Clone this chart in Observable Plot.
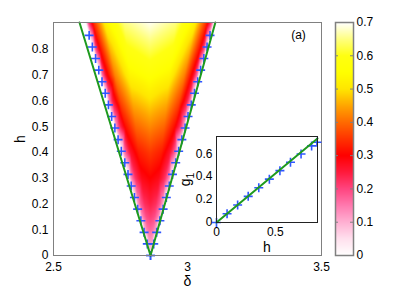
<!DOCTYPE html>
<html><head><meta charset="utf-8">
<script src="https://cdn.jsdelivr.net/npm/d3@7"></script>
<script src="https://cdn.jsdelivr.net/npm/@observablehq/plot@0.6"></script>
<style>
html,body{margin:0;padding:0;background:#fff;}
#chart{position:relative;width:407px;height:289px;overflow:hidden;}
#chart svg{position:absolute;left:0;top:0;}
</style></head><body><div id="chart"></div>
<script>
// ---- heat map (order parameter) ----
const rowH     = [0, 0.05, 0.1, 0.15, 0.2, 0.3, 0.4, 0.5, 0.6, 0.7, 0.8, 0.905];
const rowLeft  = [2.862, 2.849, 2.835, 2.822, 2.808, 2.782, 2.755, 2.728, 2.701, 2.674, 2.648, 2.620];
const rowRight = [2.862, 2.875, 2.888, 2.901, 2.914, 2.940, 2.966, 2.992, 3.018, 3.044, 3.072, 3.100];
const across   = [0, 0.02, 0.06, 0.15, 0.3, 0.5, 0.7, 0.85, 0.94, 0.98, 1];
const rowValues = [
  [0.04, 0.04, 0.04, 0.04, 0.04, 0.04, 0.04, 0.04, 0.04, 0.04, 0.04],
  [0, 0.034, 0.057, 0.086, 0.110, 0.120, 0.110, 0.086, 0.057, 0.034, 0],
  [0, 0.048, 0.081, 0.121, 0.156, 0.170, 0.156, 0.121, 0.081, 0.048, 0],
  [0, 0.059, 0.100, 0.150, 0.193, 0.210, 0.193, 0.150, 0.100, 0.059, 0],
  [0, 0.069, 0.116, 0.175, 0.225, 0.245, 0.225, 0.175, 0.116, 0.069, 0],
  [0, 0.084, 0.145, 0.220, 0.280, 0.300, 0.280, 0.220, 0.145, 0.084, 0],
  [0, 0.098, 0.170, 0.260, 0.328, 0.355, 0.328, 0.260, 0.170, 0.098, 0],
  [0, 0.118, 0.205, 0.310, 0.395, 0.425, 0.395, 0.310, 0.205, 0.118, 0],
  [0, 0.137, 0.240, 0.365, 0.462, 0.495, 0.462, 0.365, 0.240, 0.137, 0],
  [0, 0.155, 0.272, 0.420, 0.530, 0.562, 0.530, 0.420, 0.272, 0.155, 0],
  [0, 0.174, 0.305, 0.465, 0.590, 0.628, 0.590, 0.465, 0.305, 0.174, 0],
  [0, 0.193, 0.338, 0.520, 0.650, 0.695, 0.650, 0.520, 0.338, 0.193, 0]
];

// ---- numerical boundary points (+) ----
const markH     = [0, 0.045, 0.09, 0.135, 0.18, 0.225, 0.27, 0.315, 0.36, 0.405, 0.45, 0.495, 0.54, 0.585, 0.63, 0.675, 0.72, 0.765, 0.81, 0.855];
const markLeft  = [2.862, 2.850, 2.838, 2.826, 2.814, 2.802, 2.790, 2.778, 2.766, 2.753, 2.741, 2.729, 2.717, 2.705, 2.693, 2.681, 2.669, 2.657, 2.645, 2.633];
const markRight = [2.862, 2.874, 2.885, 2.897, 2.909, 2.921, 2.932, 2.944, 2.956, 2.967, 2.979, 2.991, 3.002, 3.014, 3.026, 3.038, 3.049, 3.061, 3.073, 3.084];

// ---- analytic boundary lines ----
const lineH     = [0, 0.905];
const lineLeft  = [2.862, 2.597];
const lineRight = [2.862, 3.104];

// ---- inset: g1 vs h ----
const insetH = [0, 0.09, 0.18, 0.27, 0.36, 0.45, 0.54, 0.63, 0.72, 0.81, 0.855];
const insetG = [0, 0.076, 0.152, 0.228, 0.303, 0.378, 0.452, 0.525, 0.597, 0.668, 0.700];
const fitH = [0, 0.86];
const fitG = [0, 0.733];

// ---- ticks ----
const deltaTicks = [2.5, 3, 3.5];
const hTicks = [0, 0.1, 0.2, 0.3, 0.4, 0.5, 0.6, 0.7, 0.8];
const insetXTicks = [0, 0.5];
const insetYTicks = [0, 0.2, 0.4, 0.6];
const cbTicks = [0, 0.1, 0.2, 0.3, 0.4, 0.5, 0.6, 0.7];
const cbMinor = [0.1, 0.2, 0.3, 0.4, 0.5, 0.6];

// ---- colormap ----
const colorStops = [0, 0.05, 0.1, 0.15, 0.2, 0.25, 0.3, 0.35, 0.4, 0.45, 0.5, 0.55, 0.6, 0.65, 0.7];
const colorList  = ["#ffffff","#ffe0ee","#ffb0d2","#ff7aaf","#ff4580","#ff1a3c","#ff0000","#ff3300","#ff6a00","#ffa500","#ffe600","#ffff00","#ffff12","#ffff80","#ffffff"];

const stops = d3.scaleLinear().domain(colorStops).range(colorList).interpolate(d3.interpolateRgb).clamp(true);
const colorScale = {type: "linear", domain: [0, 0.7], interpolate: t => stops(t * 0.7)};
const fmt = d => String(d);

const cells = [];
rowH.forEach((h, i) => across.forEach((u, j) => {
  cells.push({d: rowLeft[i] + u * (rowRight[i] - rowLeft[i]), h, v: rowValues[i][j]});
}));

// barycentric interpolation, left blank outside the sampled wedge
let wedgeInterpolate = "barycentric";
if (typeof Plot.interpolatorBarycentric === "function") {
  const bary = Plot.interpolatorBarycentric();
  wedgeInterpolate = (index, width, height, X, Y, V) => {
    const out = bary(index, width, height, X, Y, V);
    const hull = d3.polygonHull(Array.from(index, i => [X[i], Y[i]]));
    if (!hull) return out;
    for (let y = 0; y < height; ++y) {
      for (let x = 0; x < width; ++x) {
        if (!d3.polygonContains(hull, [x + 0.5, y + 0.5])) out[y * width + x] = NaN;
      }
    }
    return out;
  };
}

const font = "'Liberation Sans', Arial, Helvetica, sans-serif";
const blue = "#2f55ff";
const green = "#1e9a1e";
const baseStyle = {fontFamily: font, fontSize: "12px", background: "transparent", color: "black", overflow: "visible"};

const main = Plot.plot({
  width: 407, height: 289,
  marginLeft: 53, marginRight: 86, marginTop: 22, marginBottom: 34,
  style: baseStyle,
  x: {domain: [2.5, 3.5], ticks: deltaTicks, tickFormat: fmt, tickSize: 0, tickPadding: 7, label: null},
  y: {domain: [0, 0.905], ticks: hTicks, tickFormat: fmt, tickSize: 0, tickPadding: 5, label: null},
  color: colorScale,
  marks: [
    Plot.raster(cells, {x: "d", y: "h", fill: "v", interpolate: wedgeInterpolate}),
    Plot.dot(markH, {x: markLeft, y: markH, symbol: "plus", r: 3, stroke: blue, strokeWidth: 1.6}),
    Plot.dot(markH, {x: markRight, y: markH, symbol: "plus", r: 3, stroke: blue, strokeWidth: 1.6}),
    Plot.line(lineH, {x: lineLeft, y: lineH, stroke: green, strokeWidth: 2}),
    Plot.line(lineH, {x: lineRight, y: lineH, stroke: green, strokeWidth: 2}),
    Plot.frame({stroke: "#808080"}),
    Plot.text(["δ"], {frameAnchor: "bottom", dy: 21, fontSize: 14, textAnchor: "middle", lineAnchor: "top"}),
    Plot.text(["h"], {frameAnchor: "left", dx: -33, rotate: -90, fontSize: 14, textAnchor: "middle", lineAnchor: "middle"}),
    Plot.text(["(a)"], {frameAnchor: "top-right", dx: -23, dy: 13, textAnchor: "middle", lineAnchor: "middle"})
  ]
});

const inset = Plot.plot({
  width: 407, height: 289,
  marginLeft: 216, marginRight: 90, marginTop: 136, marginBottom: 67,
  style: baseStyle,
  x: {domain: [0, 0.86], ticks: insetXTicks, tickFormat: fmt, tickSize: 0, tickPadding: 5, label: null},
  y: {domain: [0, 0.75], ticks: insetYTicks, tickFormat: fmt, tickSize: 0, tickPadding: 4, label: null},
  marks: [
    Plot.frame({fill: "white"}),
    Plot.dot(insetH, {x: insetH, y: insetG, symbol: "plus", r: 3, stroke: blue, strokeWidth: 1.6}),
    Plot.line(fitH, {x: fitH, y: fitG, stroke: green, strokeWidth: 2}),
    Plot.frame({stroke: "#222"}),
    Plot.text(["h"], {frameAnchor: "bottom", dy: 25, fontSize: 14, textAnchor: "middle", lineAnchor: "middle"}),
    Plot.text(["g1"], {frameAnchor: "left", dx: -31, rotate: -90, fontSize: 14, textAnchor: "middle", lineAnchor: "middle"})
  ]
});

const cbar = Plot.plot({
  width: 407, height: 289,
  marginLeft: 335, marginRight: 54, marginTop: 22, marginBottom: 34,
  style: baseStyle,
  x: {domain: [0, 1], axis: null},
  y: {domain: [0, 0.7], axis: "right", ticks: cbTicks, tickFormat: fmt, tickSize: 0, tickPadding: 3, label: null},
  color: colorScale,
  marks: [
    Plot.raster({x1: 0, x2: 1, y1: 0, y2: 0.7, fill: (x, y) => y}),
    Plot.tickY(cbMinor, {y: d => d, stroke: "#808080", insetRight: 15}),
    Plot.tickY(cbMinor, {y: d => d, stroke: "#808080", insetLeft: 15}),
    Plot.frame({stroke: "#808080", strokeWidth: 1.5})
  ]
});

const host = document.getElementById("chart");
host.append(main, inset, cbar);
inset.querySelectorAll("text").forEach(t => {
  if (t.textContent === "g1") t.innerHTML = 'g<tspan dy="0.35em" font-size="0.75em">1</tspan>';
});
</script>
</body></html>
